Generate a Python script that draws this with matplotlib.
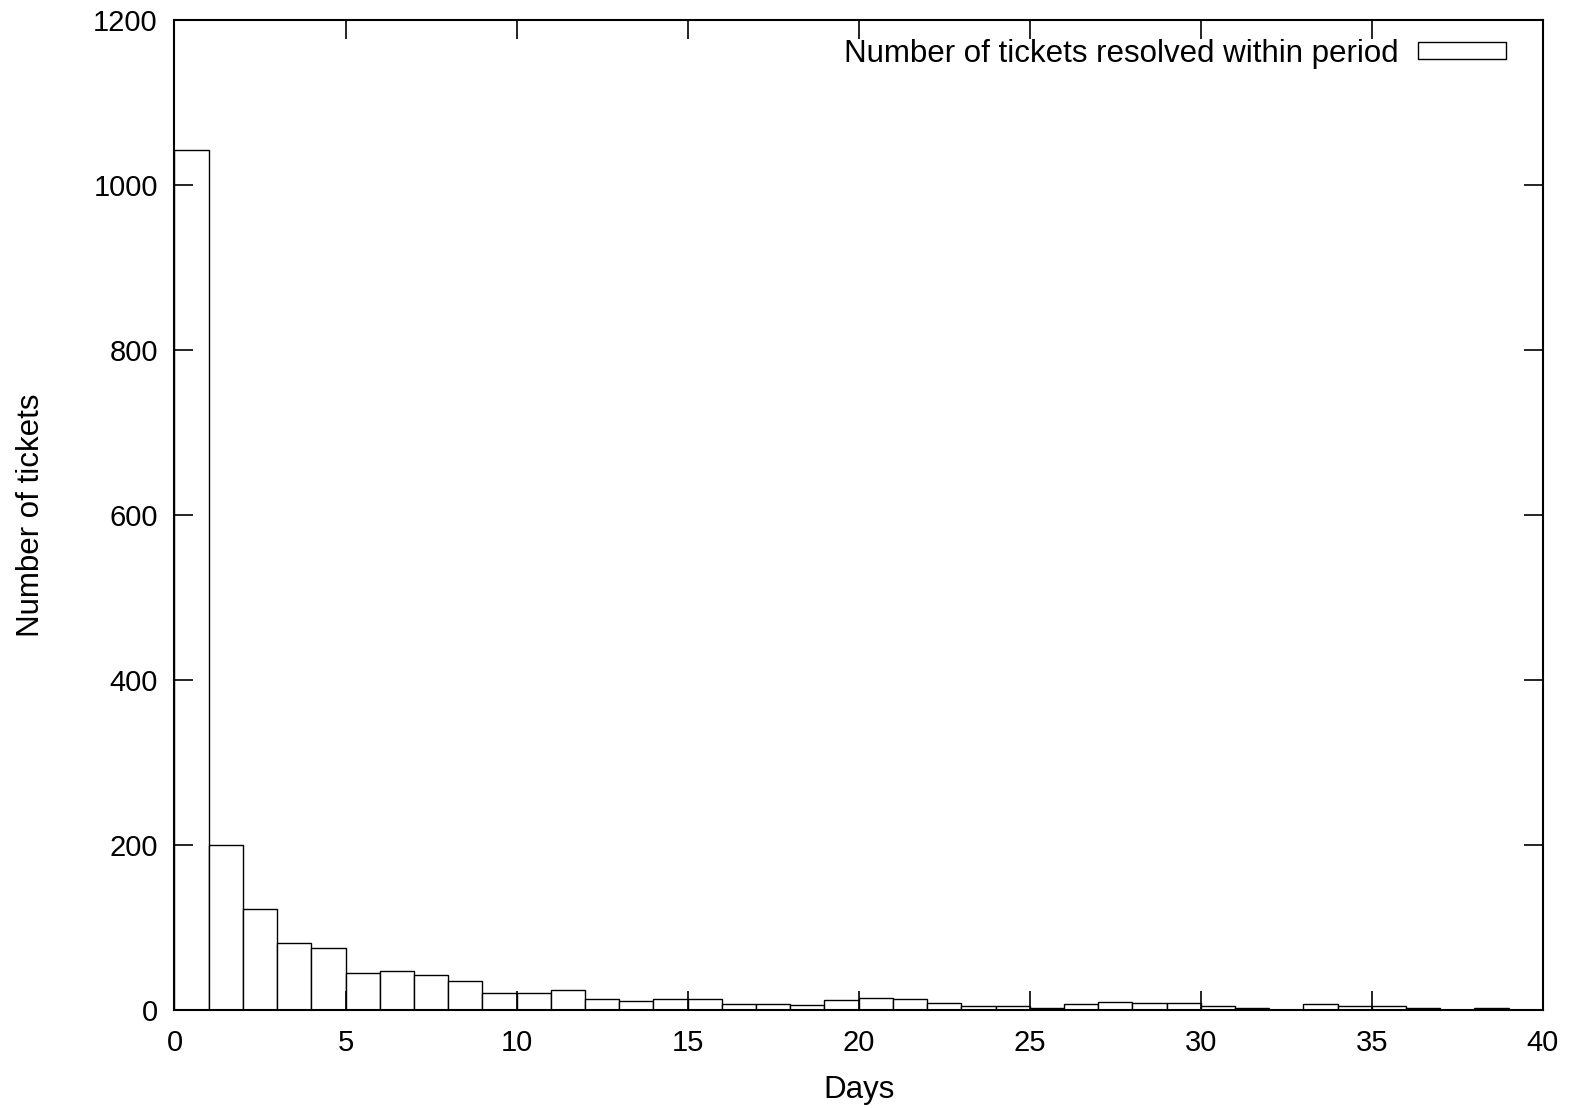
import numpy as np
import matplotlib.pyplot as plt

# tickets resolved per day bucket
days = np.arange(40)
counts = [1043, 201, 123, 82, 76, 46, 48, 43, 36, 21,
          21, 25, 14, 12, 14, 14, 8, 8, 7, 13,
          15, 14, 9, 6, 5, 3, 8, 10, 9, 9,
          5, 3, 1, 8, 6, 6, 3, 0, 3, 1]

plt.rcParams['font.family'] = ['Liberation Sans', 'DejaVu Sans']

fig = plt.figure(figsize=(15.72, 11.08), dpi=100)
ax = fig.add_axes([0.111, 0.088, 0.8705, 0.894])

ax.bar(days, counts, width=1.0, align='edge', facecolor='white',
       edgecolor='black', linewidth=1.0,
       label='Number of tickets resolved within period')

ax.set_xlim(0, 40)
ax.set_ylim(0, 1200)
ax.set_xticks(np.arange(0, 41, 5))
ax.set_yticks(np.arange(0, 1201, 200))
ax.tick_params(direction='in', length=14, width=1.2, top=True, right=True,
               labelsize=21)
ax.tick_params(axis='x', pad=13)
ax.tick_params(axis='y', pad=12)
for s in ax.spines.values():
    s.set_linewidth(1.5)

ax.set_xlabel('Days', fontsize=22.5, labelpad=13)
ax.set_ylabel('Number of tickets', fontsize=22.5, labelpad=34)

ax.legend(loc='upper right', bbox_to_anchor=(0.973, 0.981), frameon=False,
          markerfirst=False, fontsize=22.5, handlelength=2.8,
          handleheight=0.45, borderaxespad=0, borderpad=0,
          handletextpad=0.64)

fig.savefig('out.png', dpi=100)
